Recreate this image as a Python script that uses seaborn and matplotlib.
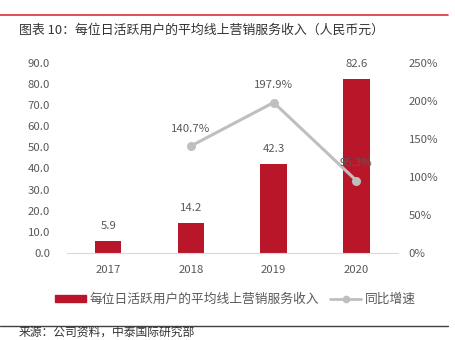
import matplotlib
matplotlib.use("Agg")
import matplotlib.pyplot as plt
import seaborn as sns
import pandas as pd
from matplotlib.lines import Line2D
from matplotlib.patches import Patch

categories = ["2017", "2018", "2019", "2020"]
revenue = [5.9, 14.2, 42.3, 82.6]
growth_years = ["2018", "2019", "2020"]
growth = [140.7, 197.9, 95.3]
left_ticks = [0, 10, 20, 30, 40, 50, 60, 70, 80, 90]
right_ticks = [0, 50, 100, 150, 200, 250]
bar_name = "每位日活跃用户的平均线上营销服务收入"
line_name = "同比增速"
title = "图表 10：每位日活跃用户的平均线上营销服务收入（人民币元）"
source = "来源：公司资料，中泰国际研究部"

sns.set_theme(style="white")
plt.rcParams["font.family"] = ["Noto Sans CJK SC", "DejaVu Sans"]

RED = "#BA1629"
GRAY = "#BFBFBF"
TXT = "#595959"
FS = 8.2

fig = plt.figure(figsize=(4.55, 3.4), dpi=100)
ax = fig.add_axes([0.147, 0.256, 0.727, 0.559])

df_bar = pd.DataFrame({"year": categories, "value": revenue})
sns.barplot(data=df_bar, x="year", y="value", order=categories, color=RED,
            width=0.32, saturation=1, linewidth=0, ax=ax)
ax.set_ylim(0, 90)
ax.set_xlim(-0.5, 3.5)
ax.set_yticks(left_ticks)
ax.set_yticklabels([f"{v:.1f}" for v in left_ticks])
ax.set_xlabel("")
ax.set_ylabel("")
for s in ["top", "right", "left"]:
    ax.spines[s].set_visible(False)
ax.spines["bottom"].set_color("#D9D9D9")
ax.spines["bottom"].set_linewidth(0.8)
ax.tick_params(axis="y", colors=TXT, labelsize=FS, length=0, pad=12)
ax.tick_params(axis="x", colors=TXT, labelsize=FS, length=0, pad=9)
for i, v in enumerate(revenue):
    ax.text(i, v + 4.6, f"{v:.1f}", ha="center", va="bottom", fontsize=FS, color=TXT)

ax2 = ax.twinx()
df_line = pd.DataFrame({"x": [categories.index(y) for y in growth_years], "g": growth})
sns.lineplot(data=df_line, x="x", y="g", color=GRAY, linewidth=2.2, marker="o",
             markersize=6.5, markeredgewidth=0, ax=ax2)
ax2.set_ylim(0, 250)
ax2.set_yticks(right_ticks)
ax2.set_yticklabels([f"{v}%" for v in right_ticks])
ax2.set_xlabel("")
ax2.set_ylabel("")
for s in ["top", "right", "left", "bottom"]:
    ax2.spines[s].set_visible(False)
ax2.tick_params(axis="y", colors=TXT, labelsize=FS, length=0, pad=8)
for x, g in zip(df_line["x"], growth):
    ax2.text(x, g + 16, f"{g:.1f}%", ha="center", va="bottom", fontsize=FS, color=TXT)

handles = [Patch(facecolor=RED, edgecolor=RED),
           Line2D([0], [0], color=GRAY, linewidth=2.0, marker="o", markersize=5.5, markeredgewidth=0)]
fig.legend(handles, [bar_name, line_name], loc="center", bbox_to_anchor=(0.518, 0.12),
           ncol=2, frameon=False, fontsize=9.2, labelcolor=TXT, handlelength=2.4,
           handleheight=0.5, handletextpad=0.3, columnspacing=0.86)

fig.add_artist(Line2D([0, 0.985], [0.955, 0.955], color="#E0303A", linewidth=1.2,
                      transform=fig.transFigure))
fig.text(0.042, 0.91, title, fontsize=9.3, color="#333333", va="center", ha="left")
fig.add_artist(Line2D([0, 0.985], [0.042, 0.042], color="#404040", linewidth=1.0,
                      transform=fig.transFigure))
fig.text(0.042, 0.004, source, fontsize=8.5, color="#333333", va="bottom", ha="left")

fig.savefig("out.png", dpi=100)
